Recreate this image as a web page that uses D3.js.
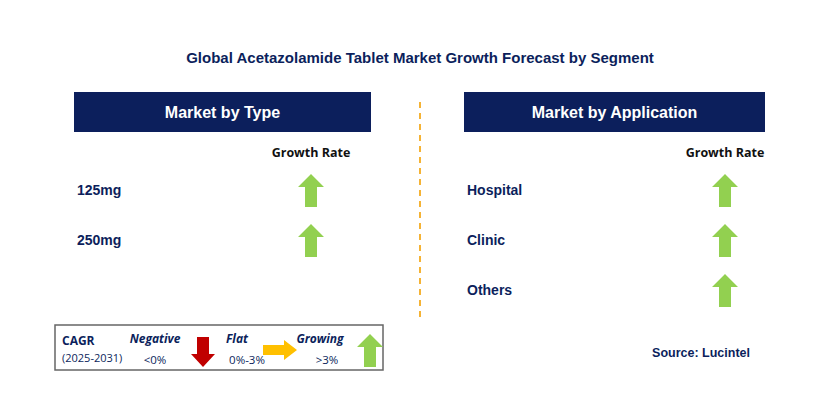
<!DOCTYPE html><html><head><meta charset="utf-8"><script src="https://d3js.org/d3.v7.min.js"></script>
<style>body{margin:0;background:#fff}</style></head><body><script>
const typeCategories=["125mg","250mg"];
const typeGrowth=["growing","growing"];
const appCategories=["Hospital","Clinic","Others"];
const appGrowth=["growing","growing","growing"];
const legendLabels=["Negative","Flat","Growing"];
const legendRanges=["<0%","0%-3%",">3%"];
const W=829,H=400,navy="#0c1f5c",green="#92d050";
const svg=d3.select("body").append("svg").attr("width",W).attr("height",H).style("font-family","Arial, 'Liberation Sans', sans-serif");
svg.append("text").attr("x",420).attr("y",63).attr("text-anchor","middle").attr("font-size",15).attr("font-weight","bold").attr("fill",navy).text("Global Acetazolamide Tablet Market Growth Forecast by Segment");
svg.append("line").attr("x1",420).attr("x2",420).attr("y1",102).attr("y2",320).attr("stroke","#f5b335").attr("stroke-width",2).attr("stroke-dasharray","6,5");
function up(g,cx,cy,c){g.append("path").attr("d",`M${cx},${cy-16}L${cx+13},${cy-3}L${cx+6},${cy-3}L${cx+6},${cy+17}L${cx-6},${cy+17}L${cx-6},${cy-3}L${cx-13},${cy-3}Z`).attr("fill",c);}
function panel(x0,x1,title,cats,vals,arrowX){
  svg.append("rect").attr("x",x0).attr("y",92).attr("width",x1-x0).attr("height",40).attr("fill",navy);
  svg.append("text").attr("x",(x0+x1)/2).attr("y",118).attr("text-anchor","middle").attr("fill","#fff").attr("font-size",16).attr("font-weight","bold").text(title);
  svg.append("text").attr("x",arrowX).attr("y",157).attr("text-anchor","middle").attr("font-size",12.5).attr("font-weight","bold").attr("fill","#111").style("font-family","'Open Sans',Calibri,sans-serif").text("Growth Rate");
  const y=d3.scaleBand().domain(cats).range([165,165+50*cats.length]);
  cats.forEach((c,i)=>{const cy=y(c)+y.bandwidth()/2;
    svg.append("text").attr("x",x0+3).attr("y",cy+5).attr("font-size",14).attr("font-weight","bold").attr("fill",navy).text(c);
    if(vals[i]==="growing")up(svg,arrowX,cy,green);});
}
panel(74,371,"Market by Type",typeCategories,typeGrowth,311);
panel(464,765,"Market by Application",appCategories,appGrowth,725);
const lg=svg.append("g");
lg.append("rect").attr("x",55).attr("y",325).attr("width",328).attr("height",45).attr("fill","#fff").attr("stroke","#666").attr("stroke-width",1.5);
const lf="'Open Sans',Calibri,sans-serif";
lg.append("text").attr("x",62).attr("y",345).attr("font-size",12).attr("font-weight","bold").attr("fill",navy).style("font-family",lf).text("CAGR");
lg.append("text").attr("x",62).attr("y",362).attr("font-size",11).attr("fill",navy).style("font-family",lf).text("(2025-2031)");
const lx=[155,237,320],rx=[155,247,327];
legendLabels.forEach((l,i)=>{lg.append("text").attr("x",lx[i]).attr("y",343).attr("text-anchor","middle").attr("font-size",12).attr("font-weight","bold").attr("font-style","italic").attr("fill",navy).style("font-family",lf).text(l);
 lg.append("text").attr("x",rx[i]).attr("y",364).attr("text-anchor","middle").attr("font-size",11.5).attr("fill",navy).style("font-family",lf).text(legendRanges[i]);});
lg.append("path").attr("d","M197,337L209,337L209,354L215,354L203,367L191,354L197,354Z").attr("fill","#c00000");
lg.append("path").attr("d","M263,345L284,345L284,340L297,350L284,360L284,355L263,355Z").attr("fill","#ffc000");
up(lg,370,350,green);
svg.append("text").attr("x",750).attr("y",357).attr("text-anchor","end").attr("font-size",12.5).attr("font-weight","bold").attr("fill",navy).text("Source: Lucintel");
</script></body></html>
